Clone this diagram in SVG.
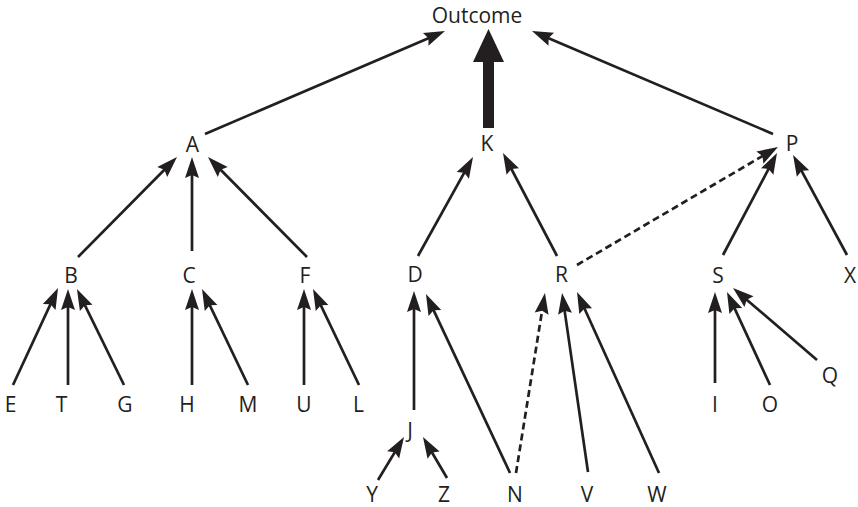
<svg xmlns="http://www.w3.org/2000/svg" width="858" height="507" viewBox="0 0 858 507">
<style>
text{font-family:"Open Sans","Noto Sans","Liberation Sans",sans-serif;font-size:21px;fill:#231f20;text-anchor:middle}
.e{fill:none;stroke:#231f20;stroke-width:2.7;marker-end:url(#ah)}
.d{stroke-dasharray:7 4}
</style>
<defs>
<marker id="ah" markerUnits="userSpaceOnUse" markerWidth="22" markerHeight="15" refX="15" refY="7" orient="auto" overflow="visible">
<path d="M0,0 L21,7 L0,14 L3,7 Z" fill="#231f20"/>
</marker>
</defs>
<rect width="858" height="507" fill="#fff"/>
<g id="connectors">
<path class="e" d="M205,134 L439.5,33.4"/>
<path class="e" d="M773,134 L537.5,33.4"/>
<polygon points="483,128 494,128 494,62 504,62 488.5,29 473,62 483,62" fill="#231f20"/>
<path class="e" d="M78,257 L172.8,161.3"/>
<path class="e" d="M192,251 L192,163"/>
<path class="e" d="M307,257 L212.2,161.3"/>
<path class="e" d="M418,256 L470.1,162.2"/>
<path class="e" d="M557,256 L505.8,158.3"/>
<path class="e" d="M723,255 L774.2,158.3"/>
<path class="e" d="M847,255 L795.9,160.3"/>
<path class="e d" d="M577,265 L772.8,150"/>
<path class="e" d="M13,385 L55.5,293.4"/>
<path class="e" d="M68,385 L68,295"/>
<path class="e" d="M124,385 L79.6,294.4"/>
<path class="e" d="M192,385 L192,295"/>
<path class="e" d="M248,385 L204.6,294.4"/>
<path class="e" d="M304,385 L304,295"/>
<path class="e" d="M359,385 L315.6,294.4"/>
<path class="e" d="M414,410 L414,297"/>
<path class="e" d="M510,473 L428.5,299.4"/>
<path class="e" d="M378,480 L400.9,442.1"/>
<path class="e" d="M447,478 L426,442.2"/>
<path class="e d" d="M516,473 L544,298.9"/>
<path class="e" d="M588,472 L562.9,298.9"/>
<path class="e" d="M659,473 L579.5,297.5"/>
<path class="e" d="M715,383 L715,298"/>
<path class="e" d="M770,385 L729.5,297.4"/>
<path class="e" d="M817,360 L737.6,291.9"/>
</g>
<g id="Outcome"><text x="477" y="22.5">Outcome</text></g>
<g id="A"><text x="192.5" y="152">A</text></g>
<g id="K"><text x="487" y="151">K</text></g>
<g id="P"><text x="792" y="151">P</text></g>
<g id="B"><text x="71" y="283">B</text></g>
<g id="C"><text x="189" y="283">C</text></g>
<g id="F"><text x="305" y="283">F</text></g>
<g id="D"><text x="415" y="282">D</text></g>
<g id="R"><text x="561.5" y="282">R</text></g>
<g id="S"><text x="718" y="283">S</text></g>
<g id="X"><text x="850" y="283">X</text></g>
<g id="E"><text x="10.5" y="412">E</text></g>
<g id="T"><text x="61.5" y="412">T</text></g>
<g id="G"><text x="125" y="412">G</text></g>
<g id="H"><text x="187" y="412">H</text></g>
<g id="M"><text x="248" y="412">M</text></g>
<g id="U"><text x="304" y="412">U</text></g>
<g id="L"><text x="358.5" y="412">L</text></g>
<g id="I"><text x="715" y="412">I</text></g>
<g id="O"><text x="770" y="412">O</text></g>
<g id="Q"><text x="830" y="383">Q</text></g>
<g id="J"><text x="410" y="438">J</text></g>
<g id="Y"><text x="372" y="501.5">Y</text></g>
<g id="Z"><text x="444" y="501.5">Z</text></g>
<g id="N"><text x="515" y="501.5">N</text></g>
<g id="V"><text x="587" y="501.5">V</text></g>
<g id="W"><text x="657" y="501.5">W</text></g>
</svg>
